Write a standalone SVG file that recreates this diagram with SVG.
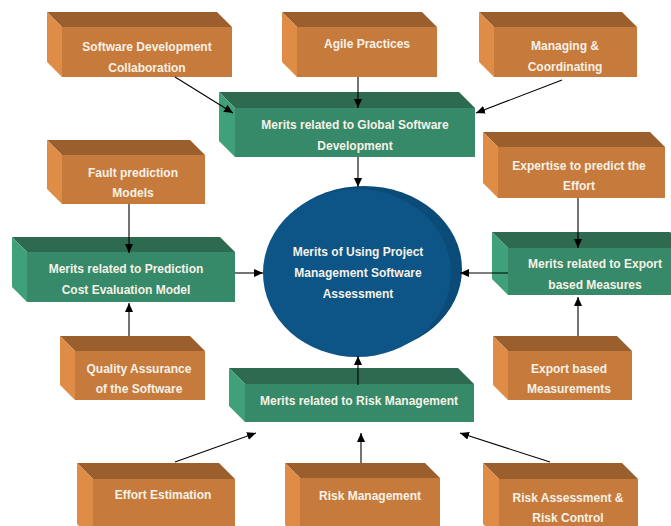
<svg xmlns="http://www.w3.org/2000/svg" width="671" height="526" viewBox="0 0 671 526">
<defs>
<style>
.ot{fill:#9b5f2e}.ol{fill:#df8c47}.of{fill:#c67b3c}
.gt{fill:#2d6a50}.gl{fill:#3fa079}.gf{fill:#368a69}
text{font-family:"Liberation Sans",Arial,sans-serif;font-weight:bold;font-size:12px;fill:#f6f1e7;text-anchor:middle}
.c line{stroke:#000;stroke-width:1.1;marker-end:url(#ah)}
</style>
<marker id="ah" markerUnits="userSpaceOnUse" markerWidth="10" markerHeight="8" refX="9" refY="4" orient="auto">
<path d="M0,0 L9,4 L0,8 z" fill="#000"/>
</marker>
</defs>
<rect width="671" height="526" fill="#fff"/>

<g id="center">
<ellipse cx="364" cy="269" rx="98" ry="83" fill="#0a4b78"/>
<ellipse cx="357" cy="273" rx="94" ry="84" fill="#0c5586"/>
<text x="358" y="256">Merits of Using Project</text>
<text x="358" y="277">Management Software</text>
<text x="358" y="298">Assessment</text>
</g>

<g id="n-sdc">
<polygon class="ot" points="47,12 217,12 232,27 62,27"/>
<polygon class="ol" points="47,12 62,27 62,77 47,62"/>
<rect class="of" x="62" y="27" width="170" height="50"/>
<text x="147" y="51">Software Development</text>
<text x="147" y="72">Collaboration</text>
</g>

<g id="n-agile">
<polygon class="ot" points="282,12 422,12 437,27 297,27"/>
<polygon class="ol" points="282,12 297,27 297,77 282,62"/>
<rect class="of" x="297" y="27" width="140" height="50"/>
<text x="367" y="48">Agile Practices</text>
</g>

<g id="n-managing">
<polygon class="ot" points="479,12 622,12 637,27 494,27"/>
<polygon class="ol" points="479,12 494,27 494,77 479,62"/>
<rect class="of" x="494" y="27" width="143" height="50"/>
<text x="565" y="50">Managing &amp;</text>
<text x="565" y="71">Coordinating</text>
</g>

<g id="n-global">
<polygon class="gt" points="219,92 459,92 475,108 235,108"/>
<polygon class="gl" points="219,92 235,108 235,157 219,141"/>
<rect class="gf" x="235" y="108" width="240" height="49"/>
<text x="355" y="129">Merits related to Global Software</text>
<text x="355" y="150">Development</text>
</g>

<g id="n-fault">
<polygon class="ot" points="47,140 190,140 205,155 62,155"/>
<polygon class="ol" points="47,140 62,155 62,204 47,189"/>
<rect class="of" x="62" y="155" width="143" height="49"/>
<text x="133" y="177">Fault prediction</text>
<text x="133" y="197">Models</text>
</g>

<g id="n-expertise">
<polygon class="ot" points="483,132 650,132 665,147 498,147"/>
<polygon class="ol" points="483,132 498,147 498,198 483,183"/>
<rect class="of" x="498" y="147" width="167" height="51"/>
<text x="579" y="170">Expertise to predict the</text>
<text x="579" y="190">Effort</text>
</g>

<g id="n-prediction">
<polygon class="gt" points="12,237 220,237 235,252 27,252"/>
<polygon class="gl" points="12,237 27,252 27,302 12,287"/>
<rect class="gf" x="27" y="252" width="208" height="50"/>
<text x="126" y="273">Merits related to Prediction</text>
<text x="126" y="294">Cost Evaluation Model</text>
</g>

<g id="n-export">
<polygon class="gt" points="492,232 670,232 686,248 508,248"/>
<polygon class="gl" points="492,232 508,248 508,295 492,279"/>
<rect class="gf" x="508" y="248" width="178" height="47"/>
<text x="595" y="268">Merits related to Export</text>
<text x="595" y="289">based Measures</text>
</g>

<g id="n-quality">
<polygon class="ot" points="60,336 190,336 205,351 75,351"/>
<polygon class="ol" points="60,336 75,351 75,400 60,385"/>
<rect class="of" x="75" y="351" width="130" height="49"/>
<text x="139" y="373">Quality Assurance</text>
<text x="139" y="393">of the Software</text>
</g>

<g id="n-exportmeas">
<polygon class="ot" points="493,336 617,336 632,351 508,351"/>
<polygon class="ol" points="493,336 508,351 508,400 493,385"/>
<rect class="of" x="508" y="351" width="124" height="49"/>
<text x="569" y="373">Export based</text>
<text x="569" y="393">Measurements</text>
</g>

<g id="n-risk">
<polygon class="gt" points="229,368 458,368 474,384 245,384"/>
<polygon class="gl" points="229,368 245,384 245,422 229,406"/>
<rect class="gf" x="245" y="384" width="229" height="38"/>
<text x="359" y="405">Merits related to Risk Management</text>
</g>

<g id="n-effort">
<polygon class="ot" points="77,463 219,463 235,479 93,479"/>
<polygon class="ol" points="77,463 93,479 93,540 77,524"/>
<rect class="of" x="93" y="479" width="142" height="61"/>
<text x="163" y="499">Effort Estimation</text>
</g>

<g id="n-riskmgmt">
<polygon class="ot" points="285,463 425,463 440,478 300,478"/>
<polygon class="ol" points="285,463 300,478 300,540 285,525"/>
<rect class="of" x="300" y="478" width="140" height="62"/>
<text x="370" y="500">Risk Management</text>
</g>

<g id="n-riskassess">
<polygon class="ot" points="483,463 622,463 638,479 499,479"/>
<polygon class="ol" points="483,463 499,479 499,540 483,524"/>
<rect class="of" x="499" y="479" width="139" height="61"/>
<text x="568" y="502">Risk Assessment &amp;</text>
<text x="568" y="522">Risk Control</text>
</g>

<g id="connectors" class="c">
<line x1="175" y1="77" x2="233" y2="113"/>
<line x1="358" y1="77" x2="358" y2="108"/>
<line x1="562" y1="80" x2="476" y2="113"/>
<line x1="358" y1="157" x2="358" y2="187"/>
<line x1="129" y1="204" x2="129" y2="253"/>
<line x1="129" y1="336" x2="129" y2="303"/>
<line x1="235" y1="273" x2="263" y2="273"/>
<line x1="578" y1="198" x2="578" y2="248"/>
<line x1="578" y1="336" x2="578" y2="297"/>
<line x1="508" y1="273" x2="460" y2="273"/>
<line x1="358" y1="385" x2="358" y2="356"/>
<line x1="175" y1="462" x2="256" y2="433"/>
<line x1="361" y1="463" x2="361" y2="433"/>
<line x1="550" y1="462" x2="460" y2="433"/>
</g>
</svg>
